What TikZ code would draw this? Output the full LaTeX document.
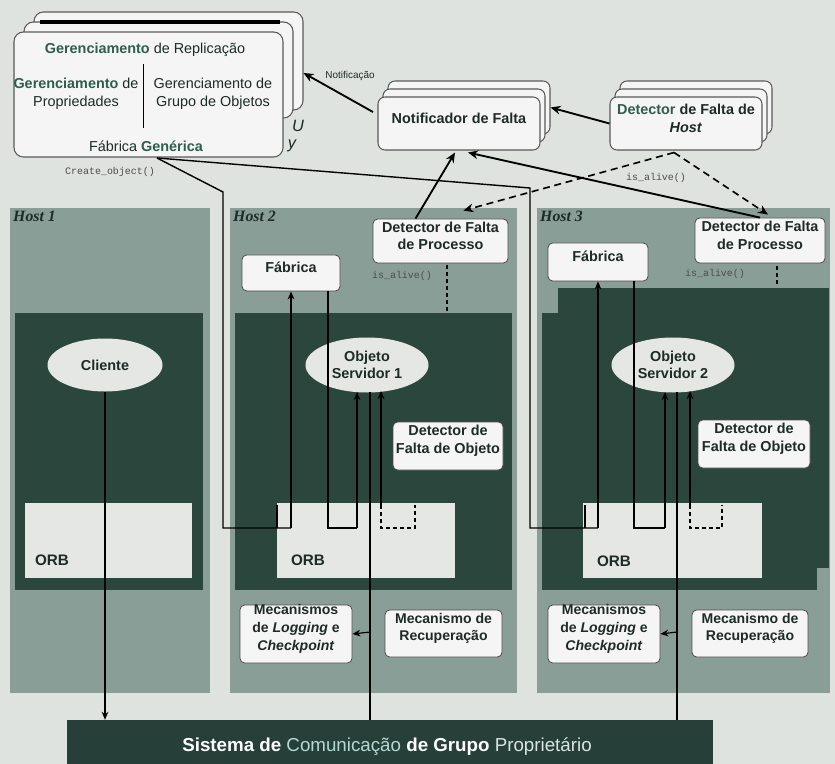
\documentclass[tikz,border=0pt]{standalone}
\usepackage{fontspec}
\setmainfont{Liberation Sans}
\setsansfont{Liberation Sans}
\setmonofont{Liberation Mono}
\newfontfamily\hostserif{Liberation Serif}
\usetikzlibrary{arrows.meta,positioning,shapes.geometric,calc,fit}

\definecolor{pagebg}{HTML}{DFE3DF}
\definecolor{hostgray}{HTML}{8A9E98}
\definecolor{procdark}{HTML}{2B463D}
\definecolor{orbfill}{HTML}{E4E7E4}
\definecolor{boxfill}{HTML}{F4F5F4}
\definecolor{inkdark}{HTML}{1E2B28}
\definecolor{emgreen}{HTML}{2E5E4E}
\definecolor{barfill}{HTML}{263F39}
\definecolor{barteal}{HTML}{B5D8D2}
\definecolor{barlight}{HTML}{DCE4E2}

\newcommand{\nodefnt}{\fontsize{12.3}{15}\selectfont}
\newcommand{\gerenc}{\textcolor{emgreen}{\bfseries Gerenciamento}}

\begin{document}
\begin{tikzpicture}[
        x=0.03cm, y=-0.03cm,
        font=\sffamily\nodefnt, text=inkdark,
        stk/.style={draw=black!65, fill=boxfill, rounded corners=8pt, line width=0.9pt, inner sep=0pt, align=center},
        hostpanel/.style={fill=hostgray, inner sep=0pt},
        procpanel/.style={fill=procdark, inner sep=0pt},
        orbbox/.style={fill=orbfill, inner sep=0pt},
        wbox/.style={draw=black!70, fill=boxfill, rounded corners=4pt, line width=0.7pt, inner sep=0pt, align=center, font=\sffamily\bfseries\nodefnt},
        ell/.style={ellipse, fill=orbfill, inner sep=0pt, align=center, font=\sffamily\bfseries\nodefnt},
        hostlbl/.style={anchor=north west, inner sep=0pt, font=\hostserif\bfseries\itshape\fontsize{13.5}{16}\selectfont},
        codelbl/.style={inner sep=1pt, font=\ttfamily\fontsize{8.5}{10}\selectfont, text=black!70},
        arr/.style={line width=1.6pt, -{Stealth[length=3mm, width=2.6mm]}},
        darr/.style={line width=1.4pt, dash pattern=on 6pt off 4pt, -{Stealth[length=3mm, width=2.6mm]}},
        ln/.style={line width=1.2pt},
        lnarr/.style={line width=1pt, -{Stealth[length=2.4mm, width=2mm]}},
    ]
    \useasboundingbox (0,0) rectangle (835,764);
    \fill[pagebg] (0,0) rectangle (835,764);

    % --- Gerenciamento de Replicacao (pilha) ---
    \node[stk, fit={(34,12) (303,110)}] (repC) {};
    \node[stk, fit={(24,22) (293,118)}] (repB) {};
    \node[stk, fit={(14,32) (283,157)}] (rep) {};
    \draw[line width=2.6pt] (40,22) -- (280,22);
    \node (tRep) at (145,50) {\gerenc{} de Replicação};
    \draw[line width=0.8pt] (143,64) -- (143,128);
    \node[align=center] (tProp) at (76,94) {\gerenc{} de\\Propriedades};
    \node[align=center] (tGrp) at (213,94) {Gerenciamento de\\Grupo de Objetos};
    \node (tFab) at (146,146) {Fábrica \textcolor{emgreen}{\bfseries Genérica}};
    \node[font=\sffamily\itshape\fontsize{14}{16}\selectfont] (tU) at (298,126) {U};
    \node[font=\sffamily\itshape\fontsize{14}{16}\selectfont] (tY) at (292,146) {y};
    \node[codelbl] (lCreate) at (110,172) {Create\_object()};

    % --- Notificador de Falta (pilha) ---
    \node[stk, rounded corners=6pt, fit={(388,81) (550,134)}] (notifC) {};
    \node[stk, rounded corners=6pt, fit={(383,89) (545,142)}] (notifB) {};
    \node[stk, rounded corners=6pt, fit={(378,97) (540,150)}, font=\sffamily\bfseries\nodefnt] (notif) {Notificador de Falta};

    % --- Detector de Falta de Host (pilha) ---
    \node[stk, rounded corners=6pt, fit={(620,81) (772,134)}] (hdetC) {};
    \node[stk, rounded corners=6pt, fit={(615,89) (767,142)}] (hdetB) {};
    \node[stk, rounded corners=6pt, fit={(610,97) (762,150)}, font=\sffamily\bfseries\nodefnt] (hdet) {\textcolor{emgreen}{Detector} de Falta de\\\textit{Host}};

    % --- hosts ---
    \node[hostpanel, fit={(10,208) (210,693)}] (host1) {};
    \node[hostpanel, fit={(230,208) (517,693)}] (host2) {};
    \node[hostpanel, fit={(537,208) (830,693)}] (host3) {};
    \node[hostlbl] (lHost1) at (13,211) {Host 1};
    \node[hostlbl] (lHost2) at (233,211) {Host 2};
    \node[hostlbl] (lHost3) at (540,211) {Host 3};

    % --- processos ---
    \node[procpanel, fit={(15,313) (203,590)}] (proc1) {};
    \node[procpanel, fit={(235,313) (512,590)}] (proc2) {};
    \node[procpanel, fit={(558,288) (829,568)}] (proc3b) {};
    \node[procpanel, fit={(542,313) (817,590)}] (proc3) {};

    % --- ORB ---
    \node[orbbox, fit={(25,503) (192,578)}] (orb1) {};
    \node[orbbox, fit={(277,503) (455,578)}] (orb2) {};
    \node[orbbox, fit={(583,503) (762,578)}] (orb3) {};
    \node[font=\sffamily\bfseries\fontsize{13}{15}\selectfont] (lOrb1) at (52,560) {ORB};
    \node[font=\sffamily\bfseries\fontsize{13}{15}\selectfont] (lOrb2) at (308,560) {ORB};
    \node[font=\sffamily\bfseries\fontsize{13}{15}\selectfont] (lOrb3) at (614,561) {ORB};

    % --- objetos ---
    \node[ell, minimum width=115*0.03cm, minimum height=53*0.03cm] (cli) at (105,365) {Cliente};
    \node[ell, minimum width=123*0.03cm, minimum height=55*0.03cm] (obj1) at (367,365) {Objeto\\Servidor 1};
    \node[ell, minimum width=123*0.03cm, minimum height=55*0.03cm] (obj2) at (673,365) {Objeto\\Servidor 2};

    % --- caixas dos hosts ---
    \node[wbox, fit={(242,255) (340,291)}] (fab2) {Fábrica};
    \node[wbox, fit={(548,243) (648,281)}] (fab3) {Fábrica};
    \node[wbox, fit={(373,219) (508,263)}] (pd2) {Detector de Falta\\de Processo};
    \node[wbox, fit={(695,218) (825,263)}] (pd3) {Detector de Falta\\de Processo};
    \node[wbox, fit={(393,422) (503,470)}] (od2) {Detector de\\Falta de Objeto};
    \node[wbox, fit={(698,420) (810,468)}] (od3) {Detector de\\Falta de Objeto};
    \node[wbox, fit={(240,605) (352,663)}, font=\sffamily\bfseries\fontsize{12}{15}\selectfont] (log2) {Mecanismos\\de \textit{Logging} e\\\textit{Checkpoint}};
    \node[wbox, fit={(548,605) (660,663)}, font=\sffamily\bfseries\fontsize{12}{15}\selectfont] (log3) {Mecanismos\\de \textit{Logging} e\\\textit{Checkpoint}};
    \node[wbox, fit={(385,610) (502,657)}, font=\sffamily\bfseries\fontsize{12}{15}\selectfont] (rec2) {Mecanismo de\\Recuperação};
    \node[wbox, fit={(692,610) (808,657)}, font=\sffamily\bfseries\fontsize{12}{15}\selectfont] (rec3) {Mecanismo de\\Recuperação};
    \node[codelbl] (lAlive2) at (402,276) {is\_alive()};
    \node[codelbl] (lAlive3) at (715,274) {is\_alive()};

    % --- barramento ---
    \node[fill=barfill, inner sep=0pt, fit={(67,720) (713,764)}] (bar) {};
    \node[text=white, font=\sffamily\bfseries\fontsize{16}{18}\selectfont] (lBar) at (387,747)
        {Sistema de \textcolor{barteal}{\mdseries Comunicação} de Grupo \textcolor{barlight}{\mdseries Proprietário}};

    % --- create_object ---
    \coordinate (cobj) at (157,158);
    \coordinate (k1) at (223,192);
    \coordinate (k2) at (530,188);
    \draw[ln] (cobj) -- (k1) -- (k1 |- 0,528) -- (291,528) -- (277,528);
    \draw[lnarr] (291,528) -- (fab2.south);
    \draw[ln] (277,505) -- (277,528);
    \draw[ln] (cobj) -- (k2) -- (k2 |- 0,528) -- (598,528);
    \draw[ln] (585,505) -- (585,528);
    \draw[lnarr] (598,528) -- (fab3.south);

    % --- interceptadores ---
    \draw[ln] (328,291) -- (328,528) -- (357,528);
    \draw[lnarr] (357,528) -- (357,392);
    \draw[ln, dashed] (381,505) -- (381,528) -- (415,528) -- (415,505);
    \draw[lnarr] (381,505) -- (381,391);
    \draw[ln] (634,281) -- (634,528) -- (665,528);
    \draw[lnarr] (665,528) -- (665,392);
    \draw[ln, dashed] (690,505) -- (690,528) -- (722,528) -- (722,505);
    \draw[lnarr] (690,505) -- (690,391);

    % --- ORB ate o barramento ---
    \coordinate (v2) at (370,392);
    \coordinate (v3) at (677,392);
    \draw[lnarr] (cli.south) -- (cli.south |- bar.north);
    \draw[ln] (v2) -- (v2 |- bar.north);
    \draw[ln] (v3) -- (v3 |- bar.north);
    \draw[lnarr] (370,632) -- (log2.east);
    \draw[lnarr] (677,632) -- (log3.east);

    % --- is_alive locais ---
    \draw[ln, dashed] (447,265) -- (447,312);
    \draw[ln, dashed] (777,266) -- (777,285);

    % --- notificacoes ---
    \draw[arr] (373,112) -- ($(repC.east)+(0,12)$);
    \node[font=\sffamily\fontsize{8.5}{10}\selectfont] (lNotif) at (350,76) {Notificação};
    \draw[arr] (hdet.west) -- (notifC.east);
    \draw[arr] ($(pd2.north)+(-25,0)$) -- ($(notif.south)+(-4,2)$);
    \draw[arr] ($(pd3.north)+(0,0)$) -- ($(notif.south)+(9,2)$);
    \coordinate (hsplit) at ($(hdet.south)+(-12,2)$);
    \draw[darr] (hsplit) -- ($(pd2.north east)+(-45,-8)$);
    \draw[darr] (hsplit) -- ($(pd3.north)+(8,-3)$);
    \node[codelbl] (lAliveH) at (656,178) {is\_alive()};
\end{tikzpicture}
\end{document}
